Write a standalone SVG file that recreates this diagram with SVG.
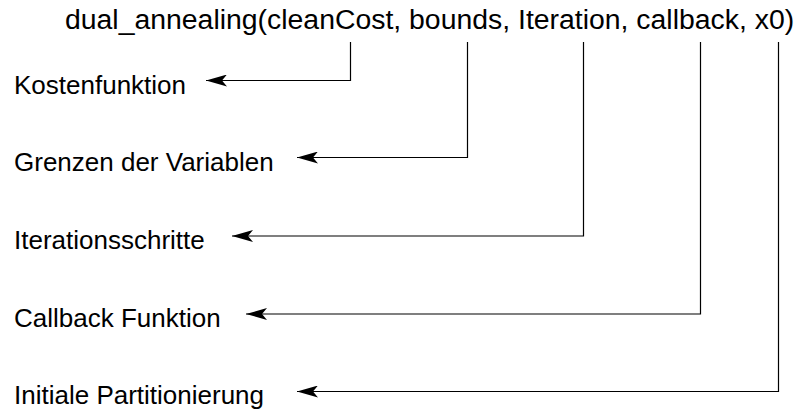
<svg xmlns="http://www.w3.org/2000/svg" width="800" height="412" viewBox="0 0 800 412">
<style>
.t{font-family:"Liberation Sans",Arial,sans-serif;fill:#000}
.title{font-size:28.4px}
.lbl{font-size:26px}
.c{fill:none;stroke:#000;stroke-width:1.2}
</style>
<defs>
<marker id="ah" viewBox="0 0 21 12" refX="21" refY="6" markerWidth="21" markerHeight="12" markerUnits="userSpaceOnUse" orient="auto">
<path d="M0,0 L21,6 L0,12 L5,6 z" fill="#000"/>
</marker>
</defs>
<rect width="800" height="412" fill="#fff"/>
<g id="call"><text class="t title" x="65" y="29">dual_annealing(cleanCost, bounds, Iteration, callback, x0)</text></g>
<g id="kosten"><text class="t lbl" x="14" y="94">Kostenfunktion</text></g>
<g id="grenzen"><text class="t lbl" x="14" y="171">Grenzen der Variablen</text></g>
<g id="iter"><text class="t lbl" x="14" y="249">Iterationsschritte</text></g>
<g id="callback"><text class="t lbl" x="14" y="327">Callback Funktion</text></g>
<g id="init"><text class="t lbl" x="14" y="404">Initiale Partitionierung</text></g>
<g id="connectors">
<path class="c" d="M350.5,42 V80.5 H206" marker-end="url(#ah)"/>
<path class="c" d="M467.5,42 V157.5 H297" marker-end="url(#ah)"/>
<path class="c" d="M583.5,42 V236 H232" marker-end="url(#ah)"/>
<path class="c" d="M700.5,42 V314 H246" marker-end="url(#ah)"/>
<path class="c" d="M778.5,42 V391.5 H297" marker-end="url(#ah)"/>
</g>
</svg>
